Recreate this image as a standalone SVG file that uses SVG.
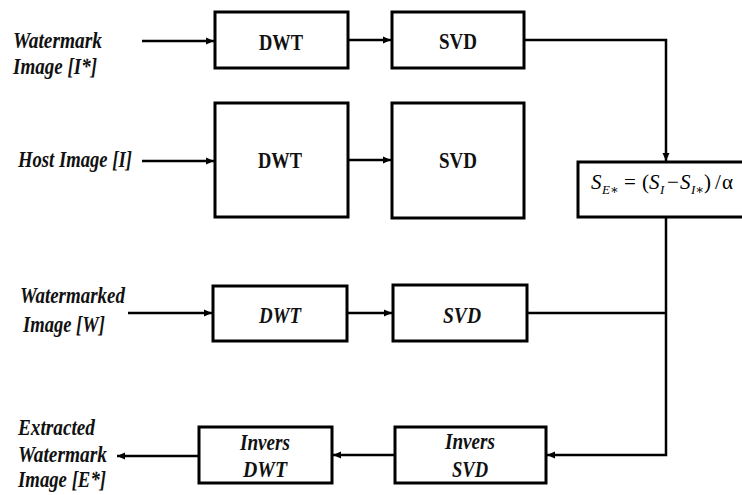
<svg xmlns="http://www.w3.org/2000/svg" width="742" height="495" viewBox="0 0 742 495">
<style>
.box{fill:#fff;stroke:#000;stroke-width:3}
.lbl{font-family:"Liberation Serif",serif;font-weight:bold;font-style:italic;font-size:23px;fill:#111}
.bt{font-family:"Liberation Serif",serif;font-weight:bold;font-size:23px;fill:#111;text-anchor:middle}
.bi{font-family:"Liberation Serif",serif;font-weight:bold;font-style:italic;font-size:23px;fill:#111;text-anchor:middle}
.fm{font-family:"Liberation Serif","DejaVu Serif",serif;font-size:21px;fill:#000}
.it{font-style:italic}
.sub{font-style:italic;font-size:13px}
.ln{fill:none;stroke:#000;stroke-width:2.5}
</style>
<defs>
<marker id="ah" markerUnits="userSpaceOnUse" markerWidth="9" markerHeight="8" refX="8" refY="4" orient="auto">
<path d="M0,0.5 L8,4 L0,7.5 Z" fill="#000"/>
</marker>
</defs>
<rect width="742" height="495" fill="#fff"/>

<g id="labels">
<text class="lbl" x="13" y="48" textLength="89" lengthAdjust="spacingAndGlyphs">Watermark</text>
<text class="lbl" x="13" y="74" textLength="84" lengthAdjust="spacingAndGlyphs">Image [I*]</text>
<text class="lbl" x="18" y="167" textLength="114" lengthAdjust="spacingAndGlyphs">Host Image [I]</text>
<text class="lbl" x="20" y="303" textLength="105" lengthAdjust="spacingAndGlyphs">Watermarked</text>
<text class="lbl" x="23" y="332" textLength="82" lengthAdjust="spacingAndGlyphs">Image [W]</text>
<text class="lbl" x="18" y="435" textLength="77" lengthAdjust="spacingAndGlyphs">Extracted</text>
<text class="lbl" x="18" y="462" textLength="89" lengthAdjust="spacingAndGlyphs">Watermark</text>
<text class="lbl" x="18" y="487" textLength="88" lengthAdjust="spacingAndGlyphs">Image [E*]</text>
</g>

<g id="connectors">
<line class="ln" x1="142" y1="41" x2="214" y2="41" marker-end="url(#ah)"/>
<line class="ln" x1="348" y1="40" x2="391" y2="40" marker-end="url(#ah)"/>
<polyline class="ln" points="524,40 666,40 666,161" marker-end="url(#ah)"/>
<line class="ln" x1="142" y1="161" x2="214" y2="161" marker-end="url(#ah)"/>
<line class="ln" x1="348" y1="160" x2="391" y2="160" marker-end="url(#ah)"/>
<line class="ln" x1="128" y1="313" x2="212" y2="313" marker-end="url(#ah)"/>
<line class="ln" x1="347" y1="313" x2="392" y2="313" marker-end="url(#ah)"/>
<line class="ln" x1="527" y1="313" x2="666" y2="313"/>
<polyline class="ln" points="666,218 666,455 547,455" marker-end="url(#ah)"/>
<line class="ln" x1="395" y1="455" x2="333" y2="455" marker-end="url(#ah)"/>
<line class="ln" x1="199" y1="456" x2="117" y2="456" marker-end="url(#ah)"/>
</g>

<g id="n-dwt1"><rect class="box" x="215" y="12" width="133" height="56"/><text class="bt" x="281" y="50" textLength="44" lengthAdjust="spacingAndGlyphs">DWT</text></g>
<g id="n-svd1"><rect class="box" x="392" y="12" width="132" height="56"/><text class="bt" x="458" y="49" textLength="38" lengthAdjust="spacingAndGlyphs">SVD</text></g>
<g id="n-dwt2"><rect class="box" x="215" y="103" width="133" height="114"/><text class="bt" x="280" y="168" textLength="44" lengthAdjust="spacingAndGlyphs">DWT</text></g>
<g id="n-svd2"><rect class="box" x="392" y="103" width="132" height="115"/><text class="bt" x="458" y="168" textLength="38" lengthAdjust="spacingAndGlyphs">SVD</text></g>
<g id="n-formula"><rect class="box" x="578" y="162" width="170" height="55"/>
<text class="fm" y="189"><tspan class="it" x="591">S</tspan><tspan class="sub" x="602" y="194">E∗</tspan><tspan x="624" y="189">=</tspan><tspan x="642">(</tspan><tspan class="it" x="649">S</tspan><tspan class="sub" x="660" y="194">I</tspan><tspan x="667" y="189">−</tspan><tspan class="it" x="680">S</tspan><tspan class="sub" x="691" y="194">I∗</tspan><tspan x="704" y="189">)</tspan><tspan x="715">/</tspan><tspan x="722">α</tspan></text></g>
<g id="n-dwt3"><rect class="box" x="213" y="286" width="134" height="55"/><text class="bi" x="280" y="323" textLength="42" lengthAdjust="spacingAndGlyphs">DWT</text></g>
<g id="n-svd3"><rect class="box" x="393" y="285" width="134" height="56"/><text class="bi" x="462" y="323" textLength="38" lengthAdjust="spacingAndGlyphs">SVD</text></g>
<g id="n-isvd"><rect class="box" x="395" y="427" width="151" height="56"/><text class="bi" x="470" y="449" textLength="50" lengthAdjust="spacingAndGlyphs">Invers</text><text class="bi" x="470" y="477" textLength="36" lengthAdjust="spacingAndGlyphs">SVD</text></g>
<g id="n-idwt"><rect class="box" x="199" y="427" width="133" height="56"/><text class="bi" x="265" y="450" textLength="50" lengthAdjust="spacingAndGlyphs">Invers</text><text class="bi" x="265" y="477" textLength="44" lengthAdjust="spacingAndGlyphs">DWT</text></g>
</svg>
